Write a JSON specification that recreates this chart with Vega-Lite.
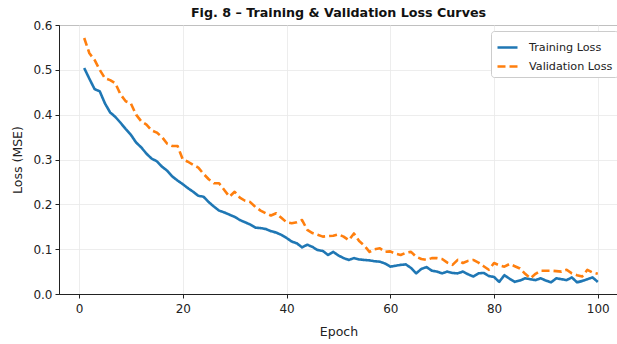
{
  "$schema": "https://vega.github.io/schema/vega-lite/v6.json",
  "width": 559,
  "height": 269,
  "autosize": {"type": "none"},
  "padding": {"left": 59, "top": 25, "right": 0, "bottom": 50},
  "background": "white",
  "title": {"text": "Fig. 8 – Training & Validation Loss Curves", "font": "DejaVu Sans", "fontSize": 12.7, "fontWeight": "bold", "color": "#111111", "anchor": "middle", "offset": -1},
  "data": {"values": [
    {"epoch":1,"Training Loss":0.504,"Validation Loss":0.571},
    {"epoch":2,"Training Loss":0.48,"Validation Loss":0.537},
    {"epoch":3,"Training Loss":0.457,"Validation Loss":0.522},
    {"epoch":4,"Training Loss":0.452,"Validation Loss":0.5},
    {"epoch":5,"Training Loss":0.425,"Validation Loss":0.481},
    {"epoch":6,"Training Loss":0.405,"Validation Loss":0.477},
    {"epoch":7,"Training Loss":0.395,"Validation Loss":0.47},
    {"epoch":8,"Training Loss":0.382,"Validation Loss":0.445},
    {"epoch":9,"Training Loss":0.368,"Validation Loss":0.43},
    {"epoch":10,"Training Loss":0.355,"Validation Loss":0.425},
    {"epoch":11,"Training Loss":0.338,"Validation Loss":0.4},
    {"epoch":12,"Training Loss":0.327,"Validation Loss":0.385},
    {"epoch":13,"Training Loss":0.313,"Validation Loss":0.378},
    {"epoch":14,"Training Loss":0.302,"Validation Loss":0.365},
    {"epoch":15,"Training Loss":0.296,"Validation Loss":0.36},
    {"epoch":16,"Training Loss":0.284,"Validation Loss":0.35},
    {"epoch":17,"Training Loss":0.275,"Validation Loss":0.335},
    {"epoch":18,"Training Loss":0.262,"Validation Loss":0.33},
    {"epoch":19,"Training Loss":0.253,"Validation Loss":0.33},
    {"epoch":20,"Training Loss":0.245,"Validation Loss":0.3},
    {"epoch":21,"Training Loss":0.236,"Validation Loss":0.295},
    {"epoch":22,"Training Loss":0.228,"Validation Loss":0.288},
    {"epoch":23,"Training Loss":0.219,"Validation Loss":0.282},
    {"epoch":24,"Training Loss":0.217,"Validation Loss":0.268},
    {"epoch":25,"Training Loss":0.205,"Validation Loss":0.256},
    {"epoch":26,"Training Loss":0.195,"Validation Loss":0.247},
    {"epoch":27,"Training Loss":0.186,"Validation Loss":0.247},
    {"epoch":28,"Training Loss":0.182,"Validation Loss":0.232},
    {"epoch":29,"Training Loss":0.177,"Validation Loss":0.217},
    {"epoch":30,"Training Loss":0.172,"Validation Loss":0.228},
    {"epoch":31,"Training Loss":0.165,"Validation Loss":0.215},
    {"epoch":32,"Training Loss":0.16,"Validation Loss":0.208},
    {"epoch":33,"Training Loss":0.155,"Validation Loss":0.205},
    {"epoch":34,"Training Loss":0.148,"Validation Loss":0.194},
    {"epoch":35,"Training Loss":0.147,"Validation Loss":0.186},
    {"epoch":36,"Training Loss":0.145,"Validation Loss":0.18},
    {"epoch":37,"Training Loss":0.14,"Validation Loss":0.175},
    {"epoch":38,"Training Loss":0.137,"Validation Loss":0.18},
    {"epoch":39,"Training Loss":0.132,"Validation Loss":0.17},
    {"epoch":40,"Training Loss":0.125,"Validation Loss":0.16},
    {"epoch":41,"Training Loss":0.117,"Validation Loss":0.158},
    {"epoch":42,"Training Loss":0.113,"Validation Loss":0.16},
    {"epoch":43,"Training Loss":0.104,"Validation Loss":0.165},
    {"epoch":44,"Training Loss":0.11,"Validation Loss":0.143},
    {"epoch":45,"Training Loss":0.105,"Validation Loss":0.136},
    {"epoch":46,"Training Loss":0.098,"Validation Loss":0.132},
    {"epoch":47,"Training Loss":0.096,"Validation Loss":0.128},
    {"epoch":48,"Training Loss":0.087,"Validation Loss":0.129},
    {"epoch":49,"Training Loss":0.094,"Validation Loss":0.13},
    {"epoch":50,"Training Loss":0.086,"Validation Loss":0.133},
    {"epoch":51,"Training Loss":0.08,"Validation Loss":0.128},
    {"epoch":52,"Training Loss":0.076,"Validation Loss":0.12},
    {"epoch":53,"Training Loss":0.08,"Validation Loss":0.135},
    {"epoch":54,"Training Loss":0.077,"Validation Loss":0.118},
    {"epoch":55,"Training Loss":0.076,"Validation Loss":0.108},
    {"epoch":56,"Training Loss":0.075,"Validation Loss":0.094},
    {"epoch":57,"Training Loss":0.073,"Validation Loss":0.1},
    {"epoch":58,"Training Loss":0.072,"Validation Loss":0.102},
    {"epoch":59,"Training Loss":0.068,"Validation Loss":0.094},
    {"epoch":60,"Training Loss":0.061,"Validation Loss":0.095},
    {"epoch":61,"Training Loss":0.063,"Validation Loss":0.09},
    {"epoch":62,"Training Loss":0.065,"Validation Loss":0.087},
    {"epoch":63,"Training Loss":0.066,"Validation Loss":0.092},
    {"epoch":64,"Training Loss":0.058,"Validation Loss":0.094},
    {"epoch":65,"Training Loss":0.046,"Validation Loss":0.083},
    {"epoch":66,"Training Loss":0.056,"Validation Loss":0.078},
    {"epoch":67,"Training Loss":0.06,"Validation Loss":0.076},
    {"epoch":68,"Training Loss":0.052,"Validation Loss":0.08},
    {"epoch":69,"Training Loss":0.05,"Validation Loss":0.08},
    {"epoch":70,"Training Loss":0.046,"Validation Loss":0.078},
    {"epoch":71,"Training Loss":0.05,"Validation Loss":0.07},
    {"epoch":72,"Training Loss":0.047,"Validation Loss":0.065},
    {"epoch":73,"Training Loss":0.046,"Validation Loss":0.076},
    {"epoch":74,"Training Loss":0.05,"Validation Loss":0.069},
    {"epoch":75,"Training Loss":0.044,"Validation Loss":0.074},
    {"epoch":76,"Training Loss":0.039,"Validation Loss":0.076},
    {"epoch":77,"Training Loss":0.046,"Validation Loss":0.07},
    {"epoch":78,"Training Loss":0.047,"Validation Loss":0.062},
    {"epoch":79,"Training Loss":0.04,"Validation Loss":0.054},
    {"epoch":80,"Training Loss":0.038,"Validation Loss":0.069},
    {"epoch":81,"Training Loss":0.027,"Validation Loss":0.064},
    {"epoch":82,"Training Loss":0.042,"Validation Loss":0.061},
    {"epoch":83,"Training Loss":0.034,"Validation Loss":0.067},
    {"epoch":84,"Training Loss":0.027,"Validation Loss":0.062},
    {"epoch":85,"Training Loss":0.03,"Validation Loss":0.057},
    {"epoch":86,"Training Loss":0.035,"Validation Loss":0.045},
    {"epoch":87,"Training Loss":0.033,"Validation Loss":0.035},
    {"epoch":88,"Training Loss":0.031,"Validation Loss":0.045},
    {"epoch":89,"Training Loss":0.035,"Validation Loss":0.052},
    {"epoch":90,"Training Loss":0.03,"Validation Loss":0.052},
    {"epoch":91,"Training Loss":0.026,"Validation Loss":0.052},
    {"epoch":92,"Training Loss":0.035,"Validation Loss":0.051},
    {"epoch":93,"Training Loss":0.033,"Validation Loss":0.05},
    {"epoch":94,"Training Loss":0.031,"Validation Loss":0.054},
    {"epoch":95,"Training Loss":0.037,"Validation Loss":0.046},
    {"epoch":96,"Training Loss":0.026,"Validation Loss":0.042},
    {"epoch":97,"Training Loss":0.029,"Validation Loss":0.039},
    {"epoch":98,"Training Loss":0.033,"Validation Loss":0.054},
    {"epoch":99,"Training Loss":0.037,"Validation Loss":0.048},
    {"epoch":100,"Training Loss":0.027,"Validation Loss":0.045}
  ]},
  "transform": [{"fold": ["Training Loss", "Validation Loss"], "as": ["series", "loss"]}],
  "mark": {"type": "line", "strokeWidth": 2.6, "strokeJoin": "round"},
  "encoding": {
    "x": {"field": "epoch", "type": "quantitative", "title": "Epoch",
      "scale": {"domain": [-3.86, 103.9], "nice": false, "zero": false},
      "axis": {"values": [0, 20, 40, 60, 80, 100], "titlePadding": 11, "labelPadding": 5}},
    "y": {"field": "loss", "type": "quantitative", "title": "Loss (MSE)",
      "scale": {"domain": [0, 0.6], "nice": false},
      "axis": {"values": [0, 0.1, 0.2, 0.3, 0.4, 0.5, 0.6], "format": ".1f", "titlePadding": 8}},
    "color": {"field": "series", "type": "nominal",
      "scale": {"domain": ["Training Loss", "Validation Loss"], "range": ["#1f77b4", "#ff7f0e"]},
      "legend": {"title": null}},
    "strokeDash": {"field": "series", "type": "nominal",
      "scale": {"domain": ["Training Loss", "Validation Loss"], "range": [[1, 0], [8, 4]]},
      "legend": {"title": null}}
  },
  "config": {
    "view": {"stroke": "#222222", "strokeWidth": 1},
    "axis": {"domainColor": "#222222", "tickColor": "#222222", "tickSize": 4, "labelColor": "#222222",
      "labelFont": "DejaVu Sans", "labelFontSize": 12, "labelPadding": 3, "titleFont": "DejaVu Sans",
      "titleFontSize": 12.5, "titleFontWeight": "normal", "titleColor": "#222222",
      "gridColor": "#e8e8e8", "gridWidth": 0.8},
    "legend": {"orient": "none", "legendX": 432, "legendY": 6, "direction": "vertical",
      "fillColor": "white", "strokeColor": "#cccccc", "cornerRadius": 3, "padding": 5,
      "symbolType": "stroke", "symbolSize": 400, "symbolStrokeWidth": 2.6,
      "labelFont": "DejaVu Sans", "labelFontSize": 11.2, "labelColor": "#222222", "labelOffset": 10, "rowPadding": 2}
  }
}
